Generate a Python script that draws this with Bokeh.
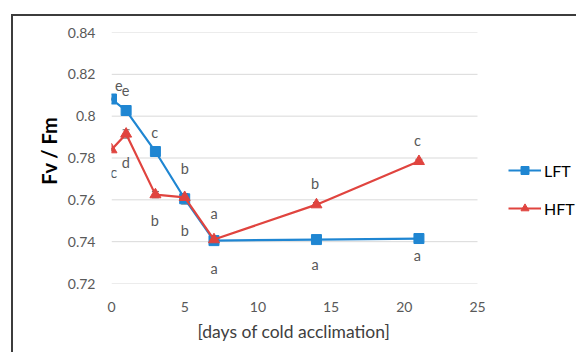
from bokeh.plotting import figure
from bokeh.models import (ColumnDataSource, FixedTicker, Legend, LegendItem,
                          Whisker, Range1d, Title)
from bokeh.core.properties import value
from bokeh.embed import file_html
from bokeh.resources import INLINE

days = [0, 1, 3, 5, 7, 14, 21]
lft = [0.8082, 0.8027, 0.7831, 0.7605, 0.7405, 0.7410, 0.7415]
lft_err = [0.0005, 0.0005, 0.0008, 0.0025, 0.0020, 0.0005, 0.0005]
hft = [0.7840, 0.7915, 0.7625, 0.7612, 0.7410, 0.7577, 0.7784]
hft_err = [0.0005, 0.0020, 0.0015, 0.0010, 0.0015, 0.0010, 0.0010]

# significance letters (x, y in data units)
let_x = [0.5, 0.97, 2.95, 5.0, 7.0, 7.0, 13.9, 20.9,
         0.15, 0.97, 2.95, 5.0, 13.9, 20.9]
let_y = [0.8147, 0.8123, 0.7922, 0.7749, 0.7533, 0.7270, 0.7293, 0.7332,
         0.7730, 0.7778, 0.7500, 0.7452, 0.7677, 0.7883]
let_t = ["e", "e", "c", "b", "a", "a", "a", "a",
         "c", "d", "b", "b", "b", "c"]

y_ticks = [0.72, 0.74, 0.76, 0.78, 0.80, 0.82, 0.84]
y_labels = ["0.72", "0.74", "0.76", "0.78", "0.8", "0.82", "0.84"]
x_ticks = [0, 5, 10, 15, 20, 25]
x_min, x_max = 0, 25
x_title = "[days of cold acclimation]"
y_title = "Fv / Fm"

BLUE = "#1f86d2"
RED = "#e0443f"
FONT = "Lato"
GREY = "#595959"

# frame extends past x=25 so that the legend (outside the axis area) is not clipped
FRAME_W = 467          # px from plot-area left to canvas right
AXIS_W = 366           # px used by 0..25
x_end = x_max * FRAME_W / AXIS_W

p = figure(width=565, height=338, output_backend="svg", toolbar_location=None,
           x_range=Range1d(x_min, x_end), y_range=Range1d(0.72, 0.84),
           min_border_left=98, min_border_right=0,
           min_border_top=16, min_border_bottom=71)
p.styles = {"margin-left": "11px", "margin-top": "14px",
            "border-left": "2px solid #3c3c3c",
            "border-top": "2px solid #3c3c3c"}
p.outline_line_color = None
p.background_fill_color = "white"
p.border_fill_color = "white"

p.xgrid.grid_line_color = None
p.ygrid.grid_line_color = None

# horizontal gridlines limited to 0..25
p.segment(x0=[x_min] * len(y_ticks), x1=[x_max] * len(y_ticks),
          y0=y_ticks, y1=y_ticks, line_color="#d9d9d9", line_width=1)

p.yaxis.ticker = FixedTicker(ticks=y_ticks)
p.yaxis.major_label_overrides = {t: l for t, l in zip(y_ticks, y_labels)}
p.xaxis.ticker = FixedTicker(ticks=x_ticks)
for ax in (p.xaxis, p.yaxis):
    ax.axis_line_color = None
    ax.major_tick_line_color = None
    ax.minor_tick_line_color = None
    ax.major_label_text_font = FONT
    ax.major_label_text_font_size = "14px"
    ax.major_label_text_color = GREY
    ax.axis_label_text_font = FONT
p.yaxis.major_label_standoff = 10
p.xaxis.major_label_standoff = 12

# leading non-breaking spaces nudge the rotated title slightly upward
p.yaxis.axis_label = "\u00a0\u00a0\u00a0" + y_title
p.yaxis.axis_label_text_font_size = "20px"
p.yaxis.axis_label_text_font_style = "bold"
p.yaxis.axis_label_text_color = "black"
p.yaxis.axis_label_standoff = 4

# x-axis title centred under the 0..25 span (not the extended frame)
xt = Title(text=x_title, align="left", offset=86, standoff=8,
           text_font=FONT, text_font_size="17.5px",
           text_font_style="normal", text_color="#404040")
p.add_layout(xt, "below")

src = ColumnDataSource(dict(
    x=days, lft=lft, hft=hft,
    lft_lo=[v - e for v, e in zip(lft, lft_err)],
    lft_hi=[v + e for v, e in zip(lft, lft_err)],
    hft_lo=[v - e for v, e in zip(hft, hft_err)],
    hft_hi=[v + e for v, e in zip(hft, hft_err)],
))

for lo, hi in (("lft_lo", "lft_hi"), ("hft_lo", "hft_hi")):
    w = Whisker(source=src, base="x", lower=lo, upper=hi,
                line_color="#666666", line_width=1)
    w.upper_head.size = 7
    w.lower_head.size = 7
    w.upper_head.line_color = "#666666"
    w.lower_head.line_color = "#666666"
    p.add_layout(w)

l1 = p.line("x", "lft", source=src, line_color=BLUE, line_width=2.2)
m1 = p.scatter("x", "lft", source=src, marker="square", size=10,
               fill_color=BLUE, line_color=BLUE)
l2 = p.line("x", "hft", source=src, line_color=RED, line_width=2.2)
m2 = p.scatter("x", "hft", source=src, marker="triangle", size=11,
               fill_color=RED, line_color=RED)

lsrc = ColumnDataSource(dict(x=let_x, y=let_y, t=let_t))
p.text("x", "y", text="t", source=lsrc, text_font=value(FONT),
       text_font_size="14.5px", text_color=GREY, text_align="center",
       text_baseline="middle")

legend = Legend(items=[LegendItem(label="LFT", renderers=[l1, m1]),
                       LegendItem(label="HFT", renderers=[l2, m2])],
                location=(397, 65), orientation="vertical")
legend.background_fill_alpha = 0
legend.border_line_color = None
legend.padding = 0
legend.margin = 0
legend.glyph_width = 33
legend.glyph_height = 20
legend.label_height = 20
legend.spacing = 18
legend.label_standoff = 3
legend.label_text_font = FONT
legend.label_text_font_size = "16px"
legend.label_text_color = "black"
p.add_layout(legend, "center")

open("out.html", "w").write(file_html(p, INLINE))
